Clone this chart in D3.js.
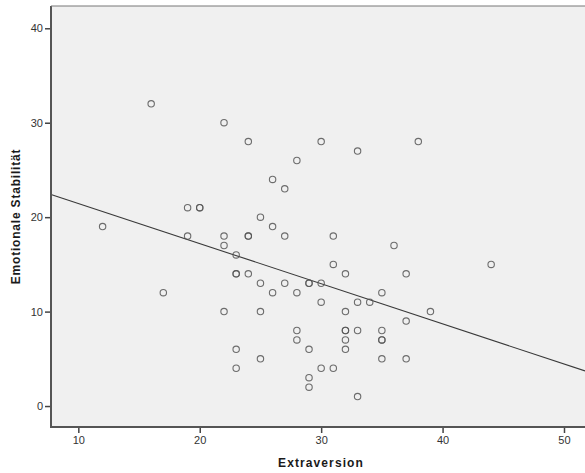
<!DOCTYPE html>
<html><head><meta charset="utf-8">
<script src="https://cdn.jsdelivr.net/npm/d3@7"></script>
<style>body{margin:0;background:#fff}svg{display:block}</style>
</head><body>
<script>
// Extraversion values
const extraversion = [16,22,24,30,38,28,33,26,27,19,20,20,25,12,26,19,22,24,24,27,31,22,36,23,31,44,23,23,24,32,37,25,27,29,29,30,17,26,28,35,30,33,34,22,25,32,39,37,28,32,32,33,35,28,32,35,35,23,29,32,25,35,37,23,30,31,29,29,33];
// Emotionale Stabilität values
const stabilitaet = [32,30,28,28,28,26,27,24,23,21,21,21,20,19,19,18,18,18,18,18,18,17,17,16,15,15,14,14,14,14,14,13,13,13,13,13,12,12,12,12,11,11,11,10,10,10,10,9,8,8,8,8,8,7,7,7,7,6,6,6,5,5,5,4,4,4,3,2,1];
const xTicks = [10,20,30,40,50];
const yTicks = [0,10,20,30,40];
const fitLine = {intercept:25.7, slope:-0.425};

const W=585,H=473;
const svg=d3.select("body").append("svg").attr("width",W).attr("height",H);
const L=51,R=585,T=6,B=427;
const x=d3.scaleLinear().domain([7.75,51.73]).range([L,R]);
const y=d3.scaleLinear().domain([-2.22,42.36]).range([B,T]);

svg.append("rect").attr("x",L).attr("y",T).attr("width",R-L).attr("height",B-T).attr("fill","#f0f0f0");

// fit line
const x0=x.domain()[0], x1=x.domain()[1];
svg.append("line")
  .attr("x1",x(x0)).attr("y1",y(fitLine.intercept+fitLine.slope*x0))
  .attr("x2",x(x1)).attr("y2",y(fitLine.intercept+fitLine.slope*x1))
  .attr("stroke","#3a3a3a").attr("stroke-width",1.1);

// points
svg.append("g").selectAll("circle").data(extraversion.map((e,i)=>[e,stabilitaet[i]]))
  .join("circle").attr("cx",d=>x(d[0])).attr("cy",d=>y(d[1])).attr("r",3.2)
  .attr("fill","none").attr("stroke","#555").attr("stroke-width",1.1).attr("stroke-opacity",0.85);

// frame lines
svg.append("line").attr("x1",L).attr("x2",L).attr("y1",T).attr("y2",B+1).attr("stroke","#555").attr("stroke-width",2);
svg.append("line").attr("x1",L).attr("x2",R).attr("y1",T).attr("y2",T).attr("stroke","#777").attr("stroke-width",1);
svg.append("line").attr("x1",L-1).attr("x2",R).attr("y1",B).attr("y2",B).attr("stroke","#555").attr("stroke-width",2);

const fontFam="'Liberation Sans', Arial, sans-serif";
// axes
const xAxis=svg.append("g").attr("transform",`translate(0,${B+1})`)
  .call(d3.axisBottom(x).tickValues(xTicks).tickSize(5).tickPadding(3));
const yAxis=svg.append("g").attr("transform",`translate(${L-1},0)`)
  .call(d3.axisLeft(y).tickValues(yTicks).tickSize(5).tickPadding(2));
[xAxis,yAxis].forEach(a=>{
  a.select(".domain").remove();
  a.selectAll(".tick line").attr("stroke","#444").attr("stroke-width",1.5);
  a.selectAll(".tick text").attr("fill","#333").style("font-family",fontFam).style("font-size","11px");
});

svg.append("text").attr("x",(L+R)/2+3).attr("y",467).attr("text-anchor","middle")
  .style("font-family",fontFam).style("font-size","12px").style("font-weight","bold").style("letter-spacing","1.1px").attr("fill","#1a1a1a")
  .text("Extraversion");
svg.append("text").attr("transform",`translate(20,${(T+B)/2}) rotate(-90)`).attr("text-anchor","middle")
  .style("font-family",fontFam).style("font-size","12px").style("font-weight","bold").style("letter-spacing","0.8px").attr("fill","#1a1a1a")
  .text("Emotionale Stabilität");
</script>
</body></html>
